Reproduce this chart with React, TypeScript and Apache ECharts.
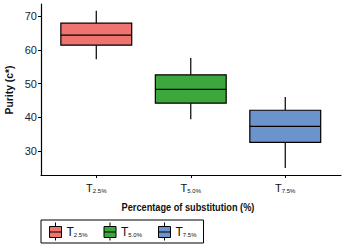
import React, { useEffect, useRef } from "react";
import * as echarts from "echarts";

const categories = ["2.5%", "5.0%", "7.5%"];
const seriesNames = categories.map((c) => "T" + c);
const minVals = [57.2, 39.4, 25.0];
const q1Vals = [61.4, 44.2, 32.6];
const medianVals = [64.4, 48.3, 37.3];
const q3Vals = [67.9, 52.6, 42.1];
const maxVals = [71.6, 57.6, 46.0];
const yTicks = [30, 40, 50, 60, 70];
const xPositions = [1, 2, 3];
const colors = ["#EF746F", "#3CA73C", "#6C94CC"];
const xAxisTitle = "Percentage of substitution (%)";
const yAxisTitle = "Purity (c*)";

const FONT = "'Liberation Sans', Arial, sans-serif";

export default function App() {
  const ref = useRef<HTMLDivElement>(null);
  useEffect(() => {
    if (!ref.current) return;
    const chart = echarts.init(ref.current, undefined, { renderer: "svg" });
    const richAxis = {
      t: { fontFamily: FONT, fontSize: 11, color: "#111", lineHeight: 12, verticalAlign: "middle" },
      s: { fontFamily: FONT, fontSize: 6, color: "#111", lineHeight: 6, verticalAlign: "bottom" },
    };
    const richLegend = {
      t: { fontFamily: FONT, fontSize: 12, color: "#111", lineHeight: 13, verticalAlign: "middle" },
      s: { fontFamily: FONT, fontSize: 6, color: "#111", lineHeight: 6, verticalAlign: "bottom" },
    };
    const series = seriesNames.map((name, i) => ({
      name,
      type: "custom",
      itemStyle: { color: colors[i], borderColor: "#000" },
      encode: { x: 0, y: [1, 2, 3, 4, 5] },
      data: [[xPositions[i], minVals[i], q1Vals[i], medianVals[i], q3Vals[i], maxVals[i]]],
      renderItem: (params: any, api: any) => {
        const x = api.value(0);
        const lo = api.coord([x, api.value(1)]);
        const q1 = api.coord([x, api.value(2)]);
        const md = api.coord([x, api.value(3)]);
        const q3 = api.coord([x, api.value(4)]);
        const hi = api.coord([x, api.value(5)]);
        const w = api.size([0.75, 0])[0];
        const cx = lo[0];
        const ls = { stroke: "#000", lineWidth: 1.2 };
        return {
          type: "group",
          children: [
            { type: "line", shape: { x1: cx, y1: hi[1], x2: cx, y2: q3[1] }, style: ls },
            { type: "line", shape: { x1: cx, y1: q1[1], x2: cx, y2: lo[1] }, style: ls },
            {
              type: "rect",
              shape: { x: cx - w / 2, y: q3[1], width: w, height: q1[1] - q3[1] },
              style: { fill: colors[i], stroke: "#000", lineWidth: 1.2 },
            },
            { type: "line", shape: { x1: cx - w / 2, y1: md[1], x2: cx + w / 2, y2: md[1] }, style: ls },
          ],
        };
      },
    }));
    chart.setOption({
      animation: false,
      backgroundColor: "#fff",
      grid: { left: 41, right: 3, top: 4, bottom: 72, containLabel: false, outerBoundsMode: "none" },
      xAxis: {
        type: "value",
        min: 0.415,
        max: 3.59,
        splitLine: { show: false },
        axisLine: { show: true, lineStyle: { color: "#000", width: 1.2 } },
        axisTick: { show: true, customValues: xPositions, length: 3, lineStyle: { color: "#000", width: 1 } },
        axisLabel: {
          customValues: xPositions,
          margin: 7,
          formatter: (v: number) => `{t|T}{s|${categories[Math.round(v) - 1]}}`,
          rich: richAxis,
        },
      },
      yAxis: {
        type: "value",
        min: 22.9,
        max: 73.6,
        splitLine: { show: false },
        axisLine: { show: true, lineStyle: { color: "#000", width: 1.2 } },
        axisTick: { show: true, customValues: yTicks, length: 3, lineStyle: { color: "#000", width: 1 } },
        axisLabel: { customValues: yTicks, margin: 4, fontFamily: FONT, fontSize: 11, color: "#1c1c2c" },
      },
      graphic: [
        {
          type: "text",
          x: 188,
          y: 207.5,
          scaleX: 0.8,
          style: {
            text: xAxisTitle,
            align: "center",
            verticalAlign: "middle",
            fontFamily: FONT,
            fontSize: 11.5,
            fontWeight: "bold",
            fill: "#111",
          },
        },
        {
          type: "text",
          x: 9,
          y: 90,
          rotation: Math.PI / 2,
          scaleX: 0.9,
          style: {
            text: yAxisTitle,
            align: "center",
            verticalAlign: "middle",
            fontFamily: FONT,
            fontSize: 11.5,
            fontWeight: "bold",
            fill: "#111",
          },
        },
      ],
      legend: {
        left: 41,
        top: 220,
        orient: "horizontal",
        data: seriesNames,
        icon: "path://M0,4H12V15H0Z M0,9.5H12 M6,0V4 M6,15V18",
        itemWidth: 12,
        itemHeight: 18,
        itemGap: 16,
        itemTextGap: 4,
        padding: [2, 7, 2, 8],
        borderColor: "#000",
        borderWidth: 1,
        borderRadius: 0,
        itemStyle: { borderColor: "#000", borderWidth: 1 },
        formatter: (name: string) => `{t|T}{s|${name.slice(1)}}`,
        textStyle: { rich: richLegend },
      },
      series,
    });
    return () => chart.dispose();
  }, []);
  return <div ref={ref} style={{ position: "fixed", left: 0, top: 0, width: 344, height: 247 }} />;
}
